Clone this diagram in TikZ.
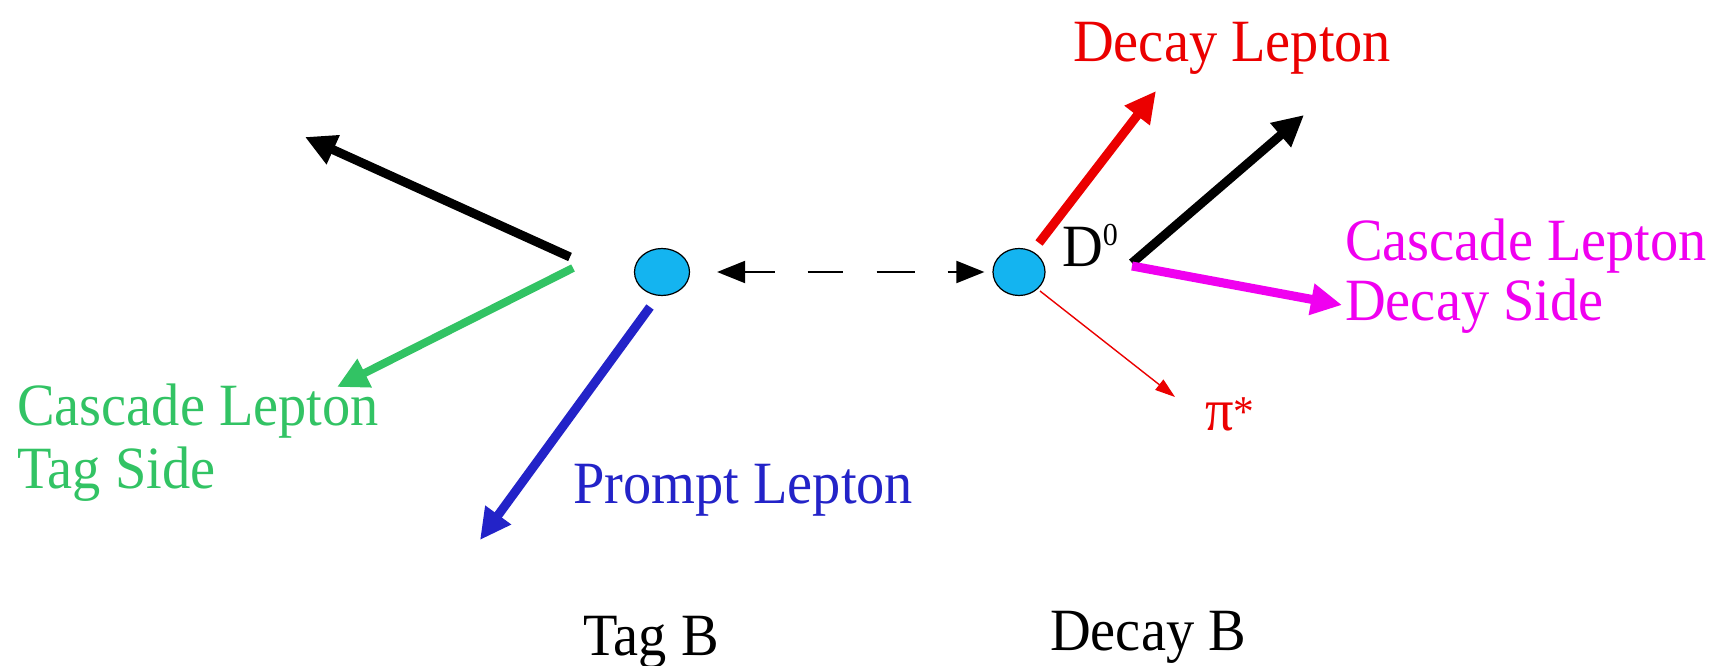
\documentclass[tikz,border=0pt]{standalone}
\usepackage{fontspec}
\setmainfont{Liberation Serif}[FakeStretch=0.94]
\usetikzlibrary{arrows.meta,shapes.geometric}
\definecolor{cgreen}{RGB}{50,195,100}
\definecolor{cblue}{RGB}{35,35,200}
\definecolor{cred}{RGB}{235,0,0}
\definecolor{cmag}{RGB}{240,0,240}
\definecolor{ccyan}{RGB}{20,180,240}
\begin{document}
\begin{tikzpicture}[x=1pt,y=-1pt,
  lbl/.style={inner sep=0pt, anchor=base west, font=\fontsize{60}{63}\selectfont},
  vert/.style={ellipse, draw=black, line width=1.2pt, fill=ccyan, minimum width=55pt, minimum height=47pt, inner sep=0pt},
  bigarrow/.style={line width=9pt, -{Triangle[length=31pt,width=30pt]}},
  thinarrow/.style={line width=1.4pt, -{Triangle[length=20pt,width=13pt]}},
  dasharrow/.style={line width=2pt, {Triangle[length=28pt,width=22pt]}-{Triangle[length=28pt,width=22pt]},
     dash pattern=on 30pt off 33pt on 35pt off 34pt on 38pt off 33pt on 40pt}
]
\useasboundingbox (0,0) rectangle (1718,666);
\fill[white] (0,0) rectangle (1718,666);

% vertices
\node[vert] (tag) at (662,272) {};
\node[vert, minimum width=52pt] (dec) at (1019,272) {};

% free ends and tails
\coordinate (tvA) at (570,257);
\coordinate (tvB) at (573,268);
\coordinate (blueT) at (650,307);
\coordinate (blackL) at (305,137);
\coordinate (greenE) at (337,387);
\coordinate (blueE) at (480,540);

\coordinate (redT) at (1039,243);
\coordinate (redE) at (1156,91);
\coordinate (dvA) at (1132,263);
\coordinate (dvB) at (1132,266);
\coordinate (blackR) at (1304,115);
\coordinate (magE) at (1342,305);
\coordinate (piT) at (1040,291);
\coordinate (piE) at (1175,397);

% dashed double arrow
\draw[dasharrow, shorten <=27pt, shorten >=8pt] (tag.east) -- (dec.west);

% tag side arrows
\draw[bigarrow, black] (tvA) -- (blackL);
\draw[bigarrow, cgreen, line width=8pt] (tvB) -- (greenE);
\draw[bigarrow, cblue] (blueT) -- (blueE);

% decay side arrows
\draw[bigarrow, cred] (redT) -- (redE);
\draw[bigarrow, black] (dvA) -- (blackR);
\draw[bigarrow, cmag] (dvB) -- (magE);
\draw[thinarrow, cred] (piT) -- (piE);

% labels
\node[lbl, cred] (ldl) at (1073,62) {Decay Lepton};
\node[lbl, cgreen] (lcl1) at (17,425) {Cascade Lepton};
\node[lbl, cgreen] (lcl2) at (17,488) {Tag Side};
\node[lbl, cblue] (lpl) at (573,503) {Prompt Lepton};
\node[lbl, cmag] (lcd1) at (1345,260) {Cascade Lepton};
\node[lbl, cmag] (lcd2) at (1345,320) {Decay Side};
\node[lbl, cred] (lpi) at (1205,430) {π\raisebox{4pt}{\fontsize{44}{44}\selectfont *}};
\node[lbl] (ld0) at (1062,266) {D\raisebox{21pt}{\fontsize{32}{32}\selectfont 0}};
\node[lbl] (ltb) at (583,655) {Tag B};
\node[lbl] (ldb) at (1050,650) {Decay B};
\end{tikzpicture}
\end{document}
